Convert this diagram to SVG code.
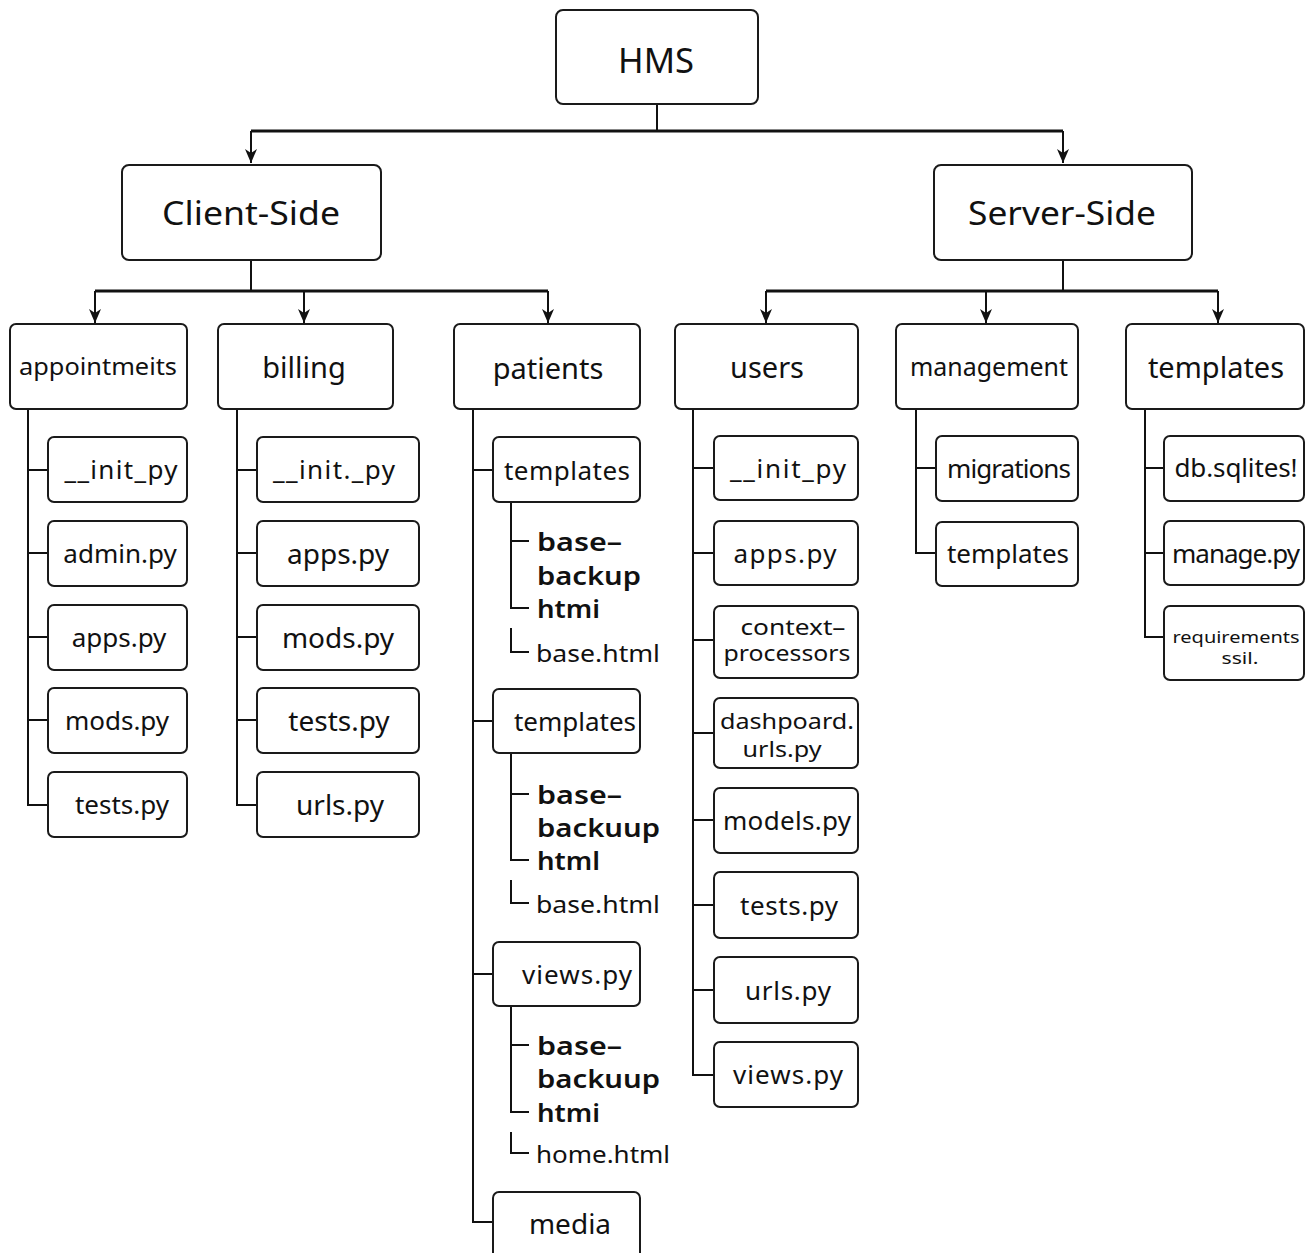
<svg xmlns="http://www.w3.org/2000/svg" width="1314" height="1253" viewBox="0 0 1314 1253">
<defs>
<marker id="arr" viewBox="0 0 14 12" refX="14" refY="6" markerWidth="14" markerHeight="12" markerUnits="userSpaceOnUse" orient="auto">
<path d="M0 0 L14 6 L0 12 L4 6 Z" fill="#111"/>
</marker>
</defs>
<style>
rect{fill:#fff;stroke:#1a1a1a;stroke-width:2}
text{font-family:"Noto Sans","DejaVu Sans",sans-serif;fill:#111;text-anchor:middle;dominant-baseline:central}
.t0{font-size:35px}
.t1{font-size:33px}
.t2{font-size:29px}
.t3{font-size:26px}
.big{font-size:26px;font-weight:600;text-anchor:start}
.sm{font-size:24px;text-anchor:start}
.two{font-size:21px}
.c path,.c line{fill:none;stroke:#111;stroke-width:2}
.c .thick{stroke-width:3}
</style>
<rect width="1314" height="1253" style="fill:#fff;stroke:none"/>
<g id="connectors" class="c">
<path d="M657 104 V131"/>
<path class="thick" d="M251 131 H1063"/>
<line x1="251" y1="131" x2="251" y2="163" marker-end="url(#arr)"/>
<line x1="1063" y1="131" x2="1063" y2="163" marker-end="url(#arr)"/>
<path d="M251 260 V291"/>
<path class="thick" d="M95 291 H548"/>
<line x1="95" y1="291" x2="95" y2="323" marker-end="url(#arr)"/>
<line x1="304" y1="291" x2="304" y2="323" marker-end="url(#arr)"/>
<line x1="548" y1="291" x2="548" y2="323" marker-end="url(#arr)"/>
<path d="M1063 260 V291"/>
<path class="thick" d="M766 291 H1218"/>
<line x1="766" y1="291" x2="766" y2="323" marker-end="url(#arr)"/>
<line x1="986" y1="291" x2="986" y2="323" marker-end="url(#arr)"/>
<line x1="1218" y1="291" x2="1218" y2="323" marker-end="url(#arr)"/>
<path d="M28 409 V805 H48 M28 470 H48 M28 553 H48 M28 637 H48 M28 720 H48"/>
<path d="M237 409 V805 H257 M237 470 H257 M237 553 H257 M237 637 H257 M237 720 H257"/>
<path d="M473 409 V1222 H493 M473 470 H493 M473 721 H493 M473 974 H493"/>
<path d="M511 502 V608 H529 M511 541 H529 M511 628 V652 H529"/>
<path d="M511 753 V860 H529 M511 794 H529 M511 880 V903 H529"/>
<path d="M511 1006 V1112 H529 M511 1045 H529 M511 1132 V1153 H529"/>
<path d="M693 409 V1075 H714 M693 468 H714 M693 553 H714 M693 640 H714 M693 733 H714 M693 820 H714 M693 905 H714 M693 990 H714"/>
<path d="M916 409 V553 H936 M916 468 H936"/>
<path d="M1145 409 V637 H1164 M1145 468 H1164 M1145 553 H1164"/>
</g>
<g id="hms"><rect x="556" y="10" width="202" height="94" rx="7"/><text class="t0" x="656" y="59" textLength="76" lengthAdjust="spacingAndGlyphs">HMS</text></g>
<g id="client"><rect x="122" y="165" width="259" height="95" rx="7"/><text class="t1" x="251" y="212" textLength="178" lengthAdjust="spacingAndGlyphs">Client-Side</text></g>
<g id="server"><rect x="934" y="165" width="258" height="95" rx="7"/><text class="t1" x="1062" y="212" textLength="188" lengthAdjust="spacingAndGlyphs">Server-Side</text></g>
<g id="appointments"><rect x="10" y="324" width="177" height="85" rx="6"/><text x="98" y="366" style="font-size:23px" textLength="158" lengthAdjust="spacingAndGlyphs">appointmeits</text></g>
<g id="billing"><rect x="218" y="324" width="175" height="85" rx="6"/><text class="t2" x="304" y="366">billing</text></g>
<g id="patients"><rect x="454" y="324" width="186" height="85" rx="6"/><text class="t2" x="548" y="367">patients</text></g>
<g id="users"><rect x="675" y="324" width="183" height="85" rx="6"/><text class="t2" x="767" y="366">users</text></g>
<g id="management"><rect x="896" y="324" width="182" height="85" rx="6"/><text x="989" y="366" style="font-size:25px" textLength="158" lengthAdjust="spacingAndGlyphs">management</text></g>
<g id="templates-root"><rect x="1126" y="324" width="178" height="85" rx="6"/><text class="t2" x="1216" y="366">templates</text></g>
<g id="a-init"><rect x="48" y="437" width="139" height="65" rx="6"/><text class="t3" x="121" y="469" textLength="113">__init_py</text></g>
<g id="a-admin"><rect x="48" y="521" width="139" height="65" rx="6"/><text class="t3" x="120" y="553">admin.py</text></g>
<g id="a-apps"><rect x="48" y="605" width="139" height="65" rx="6"/><text class="t3" x="119" y="637">apps.py</text></g>
<g id="a-mods"><rect x="48" y="688" width="139" height="65" rx="6"/><text class="t3" x="117" y="720">mods.py</text></g>
<g id="a-tests"><rect x="48" y="772" width="139" height="65" rx="6"/><text class="t3" x="122" y="804">tests.py</text></g>
<g id="b-init"><rect x="257" y="437" width="162" height="65" rx="6"/><text class="t3" x="334" y="469" textLength="122">__init._py</text></g>
<g id="b-apps"><rect x="257" y="521" width="162" height="65" rx="6"/><text class="t3" x="338" y="553" style="font-size:28px">apps.py</text></g>
<g id="b-mods"><rect x="257" y="605" width="162" height="65" rx="6"/><text class="t3" x="338" y="637" style="font-size:28px">mods.py</text></g>
<g id="b-tests"><rect x="257" y="688" width="162" height="65" rx="6"/><text class="t3" x="339" y="720" style="font-size:28px">tests.py</text></g>
<g id="b-urls"><rect x="257" y="772" width="162" height="65" rx="6"/><text class="t3" x="340" y="804" style="font-size:28px">urls.py</text></g>
<g id="p-templates1"><rect x="493" y="437" width="147" height="65" rx="6"/><text class="t3" x="567" y="470" textLength="126">templates</text></g>
<g id="p-t1-files"><text class="big" x="537" y="541" textLength="85" lengthAdjust="spacingAndGlyphs">base–</text><text class="big" x="537" y="575" textLength="104" lengthAdjust="spacingAndGlyphs">backup</text><text class="big" x="537" y="608" textLength="63" lengthAdjust="spacingAndGlyphs">htmi</text><text class="sm" x="536" y="652" textLength="124" lengthAdjust="spacingAndGlyphs">base.html</text></g>
<g id="p-templates2"><rect x="493" y="689" width="147" height="64" rx="6"/><text class="t3" x="575" y="721" textLength="122">templates</text></g>
<g id="p-t2-files"><text class="big" x="537" y="794" textLength="85" lengthAdjust="spacingAndGlyphs">base–</text><text class="big" x="537" y="827" textLength="123" lengthAdjust="spacingAndGlyphs">backuup</text><text class="big" x="537" y="860" textLength="63" lengthAdjust="spacingAndGlyphs">html</text><text class="sm" x="536" y="903" textLength="124" lengthAdjust="spacingAndGlyphs">base.html</text></g>
<g id="p-views"><rect x="493" y="942" width="147" height="64" rx="6"/><text class="t3" x="577" y="974" textLength="110">views.py</text></g>
<g id="p-v-files"><text class="big" x="537" y="1045" textLength="85" lengthAdjust="spacingAndGlyphs">base–</text><text class="big" x="537" y="1078" textLength="123" lengthAdjust="spacingAndGlyphs">backuup</text><text class="big" x="537" y="1112" textLength="63" lengthAdjust="spacingAndGlyphs">htmi</text><text class="sm" x="536" y="1153" textLength="134" lengthAdjust="spacingAndGlyphs">home.html</text></g>
<g id="p-media"><rect x="493" y="1192" width="147" height="70" rx="6"/><text class="t3" x="570" y="1223" style="font-size:28px">media</text></g>
<g id="u-init"><rect x="714" y="436" width="144" height="64" rx="6"/><text class="t3" x="788" y="468" textLength="116">__init_py</text></g>
<g id="u-apps"><rect x="714" y="521" width="144" height="64" rx="6"/><text class="t3" x="785" y="553" textLength="103">apps.py</text></g>
<g id="u-context"><rect x="714" y="606" width="144" height="72" rx="6"/><text class="two" x="793" y="627" textLength="105" lengthAdjust="spacingAndGlyphs">context–</text><text class="two" x="787" y="653" textLength="127" lengthAdjust="spacingAndGlyphs">processors</text></g>
<g id="u-dash"><rect x="714" y="698" width="144" height="70" rx="6"/><text class="two" x="787" y="721" textLength="134" lengthAdjust="spacingAndGlyphs">dashpoard.</text><text class="two" x="782" y="749" textLength="79" lengthAdjust="spacingAndGlyphs">urls.py</text></g>
<g id="u-models"><rect x="714" y="788" width="144" height="65" rx="6"/><text class="t3" x="787" y="820" textLength="128">models.py</text></g>
<g id="u-tests"><rect x="714" y="872" width="144" height="66" rx="6"/><text class="t3" x="789" y="905" textLength="98">tests.py</text></g>
<g id="u-urls"><rect x="714" y="957" width="144" height="66" rx="6"/><text class="t3" x="788" y="990" textLength="86">urls.py</text></g>
<g id="u-views"><rect x="714" y="1042" width="144" height="65" rx="6"/><text class="t3" x="788" y="1074" textLength="110">views.py</text></g>
<g id="m-migrations"><rect x="936" y="436" width="142" height="65" rx="6"/><text class="t3" x="1009" y="468" textLength="124">migrations</text></g>
<g id="m-templates"><rect x="936" y="522" width="142" height="64" rx="6"/><text class="t3" x="1008" y="553" textLength="122">templates</text></g>
<g id="r-db"><rect x="1164" y="436" width="140" height="65" rx="6"/><text class="t3" x="1236" y="467" textLength="123">db.sqlites!</text></g>
<g id="r-manage"><rect x="1164" y="521" width="140" height="64" rx="6"/><text class="t3" x="1236" y="553" textLength="128">manage.py</text></g>
<g id="r-req"><rect x="1164" y="606" width="140" height="74" rx="6"/><text x="1236" y="637" style="font-size:16px" textLength="127" lengthAdjust="spacingAndGlyphs">requirements</text><text x="1240" y="658" style="font-size:16px" textLength="37" lengthAdjust="spacingAndGlyphs">ssil.</text></g>
</svg>
